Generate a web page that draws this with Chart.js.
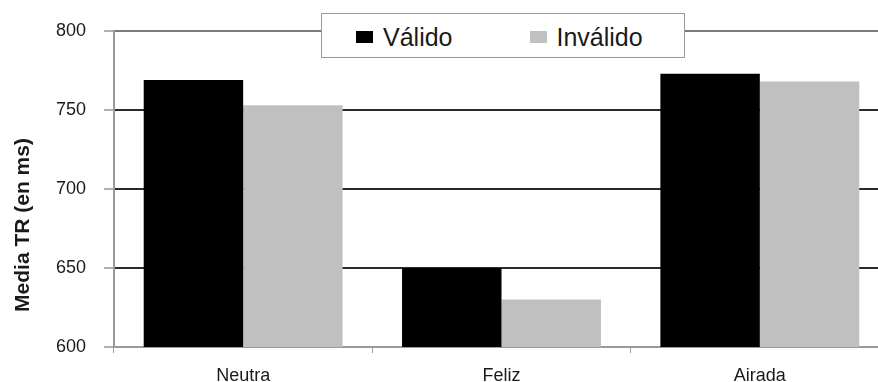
<!DOCTYPE html>
<html>
<head>
<meta charset="utf-8">
<script src="https://cdn.jsdelivr.net/npm/chart.js@4/dist/chart.umd.min.js"></script>
<style>
  html, body { margin: 0; padding: 0; background: #fff; overflow: hidden; }
  #wrap { position: relative; width: 900px; height: 382px; }
  #legend {
    position: absolute; left: 321px; top: 13px; width: 364px; height: 45px;
    box-sizing: border-box; border: 1px solid #9a9a9a; background: #fff;
    padding: 11px 0 0 34px; white-space: nowrap;
    font-family: "Liberation Sans", Arial, sans-serif; font-size: 25px; line-height: 25px; color: #1a1a1a;
  }
  #legend .item { display: inline-block; }
  #legend .item + .item { margin-left: 77px; }
  #legend .box { display: inline-block; width: 17px; height: 12px; margin: 0 10px 3px 0; }
</style>
</head>
<body>
<div id="wrap">
  <canvas id="chart"></canvas>
  <div id="legend"></div>
</div>
<script>
// Mean reaction time per face type, valid vs invalid cue trials
const categories = ['Neutra', 'Feliz', 'Airada'];
const seriesNames = ['Válido', 'Inválido'];
const validoValues = [769, 650, 773];
const invalidoValues = [753, 630, 768];
const yTickValues = [600, 650, 700, 750, 800];
const yAxisTitle = 'Media TR (en ms)';

const FONT = '"Liberation Sans", Arial, sans-serif';

// HTML legend built from the chart's datasets
const htmlLegend = {
  id: 'htmlLegend',
  afterUpdate(chart) {
    const el = document.getElementById('legend');
    el.innerHTML = '';
    chart.data.datasets.forEach(ds => {
      const item = document.createElement('span');
      item.className = 'item';
      const box = document.createElement('span');
      box.className = 'box';
      box.style.background = ds.backgroundColor;
      item.appendChild(box);
      item.appendChild(document.createTextNode(ds.label));
      el.appendChild(item);
    });
  }
};

// Rotated y-axis title
const yTitle = {
  id: 'yTitle',
  afterDraw(chart) {
    const ctx = chart.ctx;
    ctx.save();
    ctx.translate(23, 225);
    ctx.rotate(-Math.PI / 2);
    ctx.font = 'bold 21px ' + FONT;
    ctx.fillStyle = '#1a1a1a';
    ctx.textAlign = 'center';
    ctx.textBaseline = 'middle';
    ctx.fillText(yAxisTitle, 0, 0);
    ctx.restore();
  }
};

new Chart(document.getElementById('chart'), {
  type: 'bar',
  data: {
    labels: categories,
    datasets: [
      { label: seriesNames[0], data: validoValues, backgroundColor: '#000000' },
      { label: seriesNames[1], data: invalidoValues, backgroundColor: '#c0c0c0' }
    ]
  },
  options: {
    responsive: true,
    maintainAspectRatio: false,
    animation: false,
    events: [],
    layout: { padding: { left: 0, top: 31, right: 11, bottom: 0 } },
    datasets: { bar: { categoryPercentage: 0.77, barPercentage: 1.0, borderWidth: 0 } },
    plugins: { legend: { display: false }, tooltip: { enabled: false } },
    scales: {
      x: {
        offset: true,
        afterFit(scale) { scale.height = 35; },
        border: { display: true, color: '#9a9a9a', width: 2 },
        grid: { offset: true, drawOnChartArea: false, drawTicks: true, tickLength: 6, color: '#9a9a9a', lineWidth: 1 },
        ticks: { color: '#1a1a1a', padding: 12, font: { family: FONT, size: 18 } }
      },
      y: {
        min: 600,
        max: 800,
        afterFit(scale) { scale.width = 114; },
        afterBuildTicks(scale) { scale.ticks = yTickValues.map(v => ({ value: v })); },
        border: { display: true, color: '#9a9a9a', width: 2 },
        grid: {
          color: c => (c.tick && c.tick.value === 800) ? '#7a7a7a' : '#2a2a2a',
          lineWidth: 2,
          tickLength: 10,
          tickColor: '#b0b0b0',
          tickWidth: 2
        },
        ticks: { color: '#1a1a1a', padding: 18, font: { family: FONT, size: 18 } }
      }
    }
  },
  plugins: [htmlLegend, yTitle]
});
</script>
</body>
</html>
